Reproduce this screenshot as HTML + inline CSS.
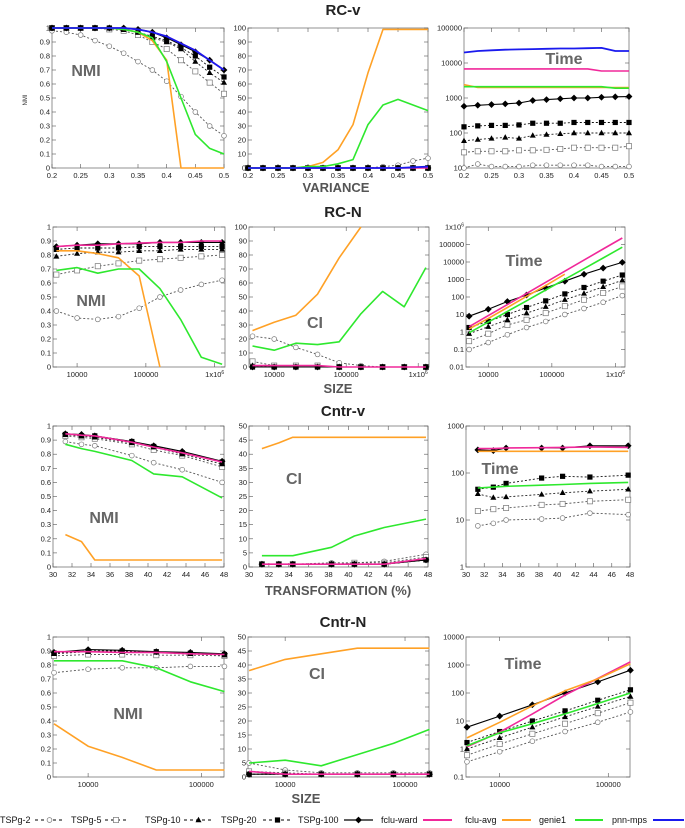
<!DOCTYPE html>
<html><head><meta charset="utf-8"><style>
html,body{margin:0;padding:0;background:#fff}
svg{display:block;font-family:"Liberation Sans",sans-serif}
.tk{font-size:7.5px;fill:#222}
.ttl{font-size:15px;font-weight:bold;fill:#222}
.axl{font-size:13px;font-weight:bold;fill:#555}
.pl{font-size:16px;font-weight:bold;fill:#666}
.lg{font-size:9px;fill:#111}
</style></head><body>
<svg id="fig" width="685" height="828" viewBox="0 0 685 828" xmlns="http://www.w3.org/2000/svg">
<text class="ttl" x="343" y="15" text-anchor="middle">RC-v</text>
<text class="ttl" x="343" y="217" text-anchor="middle">RC-N</text>
<text class="ttl" x="343" y="416" text-anchor="middle">Cntr-v</text>
<text class="ttl" x="343" y="627" text-anchor="middle">Cntr-N</text>
<text class="axl" x="336" y="192" text-anchor="middle">VARIANCE</text>
<text class="axl" x="338" y="393" text-anchor="middle">SIZE</text>
<text class="axl" x="338" y="595" text-anchor="middle">TRANSFORMATION (%)</text>
<text class="axl" x="306" y="803" text-anchor="middle">SIZE</text>
<text x="27" y="100" font-size="6" fill="#333" transform="rotate(-90 27 100)" text-anchor="middle">NMI</text>
<g id="legend"></g>
</svg>
<script>
// ---------- data ----------
const xVar = [0.2,0.225,0.25,0.275,0.3,0.325,0.35,0.375,0.4,0.425,0.45,0.475,0.5];
const xSizeRC = [5000,10000,20000,40000,80000,160000,320000,640000,1280000];
const xSizeRC6 = [5000,10000,20000,40000,80000,160000];
const xTrans = [31.3,33,34.4,38.3,40.6,43.6,47.8];
const xSizeC = [5000,10000,20000,40000,80000,160000];

// RC-v NMI
const a1_t2 = [0.98,0.97,0.95,0.91,0.87,0.82,0.76,0.70,0.62,0.51,0.40,0.30,0.23];
const a1_t5 = [1,1,1,1,0.99,0.98,0.95,0.90,0.85,0.77,0.69,0.61,0.53];
const a1_t10 = [1,1,1,1,1,0.99,0.97,0.93,0.90,0.85,0.76,0.68,0.61];
const a1_t20 = [1,1,1,1,1,0.99,0.97,0.94,0.91,0.86,0.80,0.72,0.65];
const a1_t100 = [1,1,1,1,1,1,0.99,0.97,0.93,0.88,0.83,0.77,0.70];
const a1_ward = [1,1,1,1,1,1,0.99,0.97,0.94,0.89,0.84,0.77,0.70];
const a1_avg = [1,1,1,1,1,0.99,0.97,0.91,0.77,0,0,0,0];
const a1_gen = [1,1,1,1,1,0.99,0.97,0.93,0.76,0.50,0.24,0.14,0.10];
const a1_pnn = [1,1,1,1,1,1,0.99,0.97,0.94,0.89,0.84,0.77,0.70];
// RC-v CI
const a2_t2 = [0,0,0,0,0,0,0,0,0,1,2,5,7];
const a2_t5 = [0,0,0,0,0,0,0,0,0,0,0,0,0];
const a2_t10 = [0,0,0,0,0,0,0,0,0,0,0,0,0];
const a2_t20 = [0,0,0,0,0,0,0,0,0,0,0,0,0];
const a2_t100 = [0,0,0,0,0,0,0,0,0,0,0,0,0];
const a2_ward = [0,0,0,0,0,0,0,0,0,0,0,0,0];
const a2_avg = [0,0,0,0,1,4,13,31,68,99,99,99,99];
const a2_gen = [0,0,0,0,1,1,3,6,31,45,49,45,41];
const a2_pnn = [0,0,0,0,0,0,0,0,0,0,0,0.5,1];
// RC-v Time
const a3_t2 = [10,13,11,11,11,12,12,12,12,12,11,11,11];
const a3_t5 = [28,30,30,30,32,32,33,35,38,38,38,38,42];
const a3_t10 = [60,65,70,75,70,85,90,95,100,100,100,100,100];
const a3_t20 = [150,160,165,165,170,190,190,190,200,200,200,200,200];
const a3_t100 = [580,620,650,680,720,850,900,950,1000,1000,1050,1080,1100];
const a3_ward = [6800,6800,6800,6800,6800,6800,6800,6800,6800,6800,5900,5900,5900];
const a3_avg = [2400,2000,2000,2000,2000,2000,2000,2000,2000,2000,2000,2000,2000];
const a3_gen = [2100,2100,2100,2100,2100,2100,2100,2100,2100,2100,2100,1900,1900];
const a3_pnn = [20000,22000,23000,24000,24500,25000,25500,26000,26000,26500,27000,22000,22000];

// RC-N NMI
const b1_t2 = [0.40,0.35,0.34,0.36,0.42,0.50,0.55,0.59,0.62];
const b1_t5 = [0.66,0.69,0.72,0.74,0.76,0.77,0.78,0.79,0.80];
const b1_t10 = [0.79,0.81,0.82,0.82,0.83,0.83,0.84,0.84,0.84];
const b1_t20 = [0.84,0.85,0.85,0.85,0.86,0.86,0.86,0.86,0.86];
const b1_t100 = [0.86,0.87,0.88,0.88,0.88,0.89,0.89,0.89,0.89];
const b1_ward = [0.86,0.87,0.87,0.88,0.885,0.89,0.89,0.90,0.90];
const b1_avg = [0.83,0.83,0.81,0.78,0.65,0];
const b1_gen = [0.69,0.71,0.67,0.70,0.70,0.56,0.34,0.07,0.02];
// RC-N CI
const b2_t2 = [22,20,14,9,3,1,0,0,0];
const b2_t5 = [4,1,1,1,0,0,0,0,0];
const b2_t10 = [1,0,0,0,0,0,0,0,0];
const b2_t20 = [0,0,0,0,0,0,0,0,0];
const b2_t100 = [0,0,0,0,0,0,0,0,0];
const b2_ward = [1,1,1,1,0,0,0,0,0];
const b2_avg = [26,32,37,52,78,100];
const b2_gen = [15,12,17,16,18,38,54,43,71];
// RC-N Time
const b3_t2 = [0.1,0.25,0.7,1.8,4,10,22,50,120];
const b3_t5 = [0.3,0.8,2.5,5,12,30,70,170,400];
const b3_t10 = [0.8,2,5,12,28,70,160,380,900];
const b3_t20 = [1.8,4,10,25,60,150,350,800,1800];
const b3_t100 = [8,20,55,130,330,800,2000,4500,9500];
const b3_ward = [2,8.6,37,160,690,3000,12800,55000,235000];
const b3_avg = [1.5,6,25,110,450,2000];
const b3_gen = [0.9,3.7,15,61,250,1020,4150,17000,70000];

// Cntr-v NMI
const c1_t2 = [0.89,0.87,0.86,0.79,0.74,0.69,0.60];
const c1_t5 = [0.93,0.92,0.91,0.87,0.83,0.79,0.71];
const c1_t10 = [0.94,0.93,0.92,0.88,0.85,0.80,0.73];
const c1_t20 = [0.94,0.93,0.93,0.89,0.855,0.81,0.745];
const c1_t100 = [0.945,0.94,0.93,0.89,0.86,0.82,0.75];
const c1_ward = [0.945,0.935,0.93,0.885,0.85,0.81,0.745];
const c1_avg = [0.23,0.18,0.05,0.05,0.05,0.05,0.05];
const c1_gen = [0.87,0.84,0.82,0.755,0.66,0.64,0.49];
// Cntr-v CI
const c2_t2 = [1,1,1,1.5,1.5,2,4.5];
const c2_t5 = [1,1,1,1,1.5,1.5,3.5];
const c2_t10 = [1,1,1,1,1,1,2.5];
const c2_t20 = [1,1,1,1,1,1,2.5];
const c2_t100 = [1,1,1,1,1,1,2.5];
const c2_ward = [1,1,1,1,1,1,3];
const c2_avg = [42,44,46,46,46,46,46];
const c2_gen = [4,4,4,7,11,14,17];
// Cntr-v Time
const c3_t2 = [7.5,8.5,10,10.5,11,14,13];
const c3_t5 = [15.5,17,18,21,22,25,27];
const c3_t10 = [36,30,31,35,38,41,45];
const c3_t20 = [45,50,60,78,85,82,90];
const c3_t100 = [310,300,340,340,340,380,380];
const c3_ward = [330,330,340,345,350,360,350];
const c3_avg = [290,290,290,290,290,290,290];
const c3_gen = [48,50,52,55,57,60,63];

// Cntr-N NMI
const d1_t2 = [0.745,0.77,0.78,0.78,0.79,0.79];
const d1_t5 = [0.865,0.875,0.875,0.87,0.87,0.865];
const d1_t10 = [0.88,0.895,0.895,0.89,0.88,0.87];
const d1_t20 = [0.885,0.90,0.90,0.895,0.885,0.875];
const d1_t100 = [0.89,0.91,0.905,0.895,0.89,0.88];
const d1_ward = [0.895,0.895,0.89,0.89,0.88,0.875];
const d1_avg = [0.38,0.22,0.14,0.05,0.05,0.05];
const d1_gen = [0.83,0.83,0.83,0.78,0.68,0.61];
// Cntr-N CI
const d2_t2 = [5,2.5,1.5,1.5,1.5,1.5];
const d2_t5 = [2,1.5,1,1,1,1];
const d2_t10 = [1,1,1,1,1,1];
const d2_t20 = [1,1,1,1,1,1];
const d2_t100 = [1,1,1,1,1,1];
const d2_ward = [2,1,1,1,1,1];
const d2_avg = [38,42,44,46,46,46];
const d2_gen = [5,6,4,8,12,17];
// Cntr-N Time
const d3_t2 = [0.35,0.8,1.9,4.2,9,21];
const d3_t5 = [0.6,1.5,3.5,8,19,45];
const d3_t10 = [1,2.5,6,14,33,75];
const d3_t20 = [1.7,4.2,10,23,55,130];
const d3_t100 = [6,15,38,100,250,650];
const d3_ward = [1.2,4,18,85,330,1300];
const d3_avg = [2.5,9,35,120,320,1100];
const d3_gen = [1.3,3.8,8,18,42,100];

// tick label arrays
const tkNMI = [0,0.1,0.2,0.3,0.4,0.5,0.6,0.7,0.8,0.9,1];
const tkCI100 = [0,10,20,30,40,50,60,70,80,90,100];
const tkCI50 = [0,5,10,15,20,25,30,35,40,45,50];
const tkVar = [0.2,0.25,0.3,0.35,0.4,0.45,0.5];
const tkTrans = [30,32,34,36,38,40,42,44,46,48];
const tkSizeRC = [10000,100000,1000000];
const tkSizeC = [10000,100000];
const tkTimeA = [10,100,1000,10000,100000];
const tkTimeB = [0.01,0.1,1,10,100,1000,10000,100000,1000000];
const tkTimeC = [1,10,100,1000];
const tkTimeD = [0.1,1,10,100,1000,10000];

// ---------- drawing ----------
const NS = 'http://www.w3.org/2000/svg';
const svg = document.getElementById('fig');
function mk(tag, attrs, parent){
  const e = document.createElementNS(NS, tag);
  for (const k in attrs) e.setAttribute(k, attrs[k]);
  (parent || svg).appendChild(e);
  return e;
}
function fmt(v){
  if (v >= 1000000) return null;
  return String(v);
}
function panel(name, x0, x1, y0, y1, xd, xlog, yd, ylog, xt, yt){
  const g = mk('g', {});
  
  
  const fx = v => xlog ? Math.log10(v) : v;
  const fy = v => ylog ? Math.log10(v) : v;
  const sx = v => x0 + (fx(v) - xd[0]) / (xd[1] - xd[0]) * (x1 - x0);
  const sy = v => y1 - (fy(v) - yd[0]) / (yd[1] - yd[0]) * (y1 - y0);
  const fr = mk('rect', {x:x0, y:y0, width:x1-x0, height:y1-y0, fill:'none', stroke:'#777', 'stroke-width':0.8}, g);
  
  
  xt.forEach(v => {
    const X = sx(v);
    mk('line', {x1:X, x2:X, y1:y1, y2:y1-4, stroke:'#555', 'stroke-width':0.6}, g);
    mk('line', {x1:X, x2:X, y1:y0, y2:y0+4, stroke:'#555', 'stroke-width':0.6}, g);
    const t = mk('text', {x:X, y:y1+10, 'text-anchor':'middle', class:'tk'}, g);
    
    
    if (v >= 1000000) { t.textContent = '1x10'; const s = mk('tspan', {dy:-3, 'font-size':5}, t); s.textContent = '6'; }
    else t.textContent = String(v);
  });
  yt.forEach(v => {
    const Y = sy(v);
    mk('line', {x1:x0, x2:x0+4, y1:Y, y2:Y, stroke:'#555', 'stroke-width':0.6}, g);
    mk('line', {x1:x1, x2:x1-4, y1:Y, y2:Y, stroke:'#555', 'stroke-width':0.6}, g);
    const t = mk('text', {x:x0-2, y:Y+2.5, 'text-anchor':'end', class:'tk'}, g);
    
    
    if (v >= 1000000) { t.textContent = '1x10'; const s = mk('tspan', {dy:-3, 'font-size':5}, t); s.textContent = '6'; }
    else t.textContent = String(v);
  });
  return {g, sx, sy};
}
const ST = {
  t2:{c:'#555', d:'2,2', m:'circ', w:0.9},
  t5:{c:'#555', d:'2,2', m:'sqo', w:0.9},
  t10:{c:'#222', d:'2,2', m:'tri', w:0.9},
  t20:{c:'#111', d:'2,2', m:'sq', w:0.9},
  t100:{c:'#000', d:'', m:'dia', w:1.1},
  ward:{c:'#f0289a', d:'', m:'', w:1.6},
  avg:{c:'#ffa126', d:'', m:'', w:1.6},
  gen:{c:'#2ee82e', d:'', m:'', w:1.6},
  pnn:{c:'#1a1aee', d:'', m:'', w:1.8}
};
function marker(g, m, X, Y, c){
  const r = 2.6;
  if (m === 'circ') return mk('circle', {cx:X, cy:Y, r:2.4, fill:'#fff', stroke:'#777', 'stroke-width':0.7}, g);
  if (m === 'sqo') return mk('rect', {x:X-r, y:Y-r, width:2*r, height:2*r, fill:'#fff', stroke:'#777', 'stroke-width':0.7}, g);
  if (m === 'sq') return mk('rect', {x:X-r, y:Y-r, width:2*r, height:2*r, fill:'#000'}, g);
  if (m === 'tri') return mk('polygon', {points:`${X},${Y-3.2} ${X-3},${Y+2.2} ${X+3},${Y+2.2}`, fill:'#000'}, g);
  if (m === 'dia') return mk('polygon', {points:`${X},${Y-3.4} ${X-3.4},${Y} ${X},${Y+3.4} ${X+3.4},${Y}`, fill:'#000'}, g);
}
function series(p, xs, ys, key, name){
  const s = ST[key];
  const n = Math.min(xs.length, ys.length);
  let d = '';
  for (let i = 0; i < n; i++) d += (i ? 'L' : 'M') + p.sx(xs[i]).toFixed(1) + ',' + p.sy(ys[i]).toFixed(1);
  const path = mk('path', {d, fill:'none', stroke:s.c, 'stroke-width':s.w, 'stroke-dasharray':s.d, 'stroke-linejoin':'round'}, p.g);
  
  
  if (s.m) for (let i = 0; i < n; i++) {
    const mm = marker(p.g, s.m, p.sx(xs[i]), p.sy(ys[i]), s.c);
    
    
  }
}
function label(txt, x, y, name){
  const t = mk('text', {x, y, class:'pl', 'text-anchor':'middle'});
  t.textContent = txt;
  
  
}
function drawAll(p, xs, arr, xsShort){
  const order = ['t2','t5','t10','t20','t100','ward','avg','gen','pnn'];
  order.forEach(k => {
    if (!arr[k]) return;
    const xx = (arr[k].length < xs.length && xsShort) ? xsShort : xs;
    series(p, xx, arr[k], k, 'series-' + k);
  });
}
// Row 1
let p;
p = panel('panel-rcv-nmi', 52, 224, 28, 168, [0.2,0.5], false, [0,1], false, tkVar, tkNMI);
drawAll(p, xVar, {t2:a1_t2,t5:a1_t5,t10:a1_t10,t20:a1_t20,t100:a1_t100,ward:a1_ward,avg:a1_avg,gen:a1_gen,pnn:a1_pnn});
label('NMI', 86, 76, 'label-nmi');
p = panel('panel-rcv-ci', 248, 428, 28, 168, [0.2,0.5], false, [0,100], false, tkVar, tkCI100);
drawAll(p, xVar, {t2:a2_t2,t5:a2_t5,t10:a2_t10,t20:a2_t20,t100:a2_t100,ward:a2_ward,avg:a2_avg,gen:a2_gen,pnn:a2_pnn});
p = panel('panel-rcv-time', 464, 629, 28, 168, [0.2,0.5], false, [1,5], true, tkVar, tkTimeA);
drawAll(p, xVar, {t2:a3_t2,t5:a3_t5,t10:a3_t10,t20:a3_t20,t100:a3_t100,ward:a3_ward,avg:a3_avg,gen:a3_gen,pnn:a3_pnn});
label('Time', 564, 64, 'label-time');
// Row 2
p = panel('panel-rcn-nmi', 53, 225, 227, 367, [3.65,6.15], true, [0,1], false, tkSizeRC, tkNMI);
drawAll(p, xSizeRC, {t2:b1_t2,t5:b1_t5,t10:b1_t10,t20:b1_t20,t100:b1_t100,ward:b1_ward,avg:b1_avg,gen:b1_gen}, xSizeRC6);
label('NMI', 91, 306, 'label-nmi');
p = panel('panel-rcn-ci', 249, 429, 227, 367, [3.65,6.15], true, [0,100], false, tkSizeRC, tkCI100);
drawAll(p, xSizeRC, {t2:b2_t2,t5:b2_t5,t10:b2_t10,t20:b2_t20,t100:b2_t100,ward:b2_ward,avg:b2_avg,gen:b2_gen}, xSizeRC6);
label('CI', 315, 328, 'label-ci');
p = panel('panel-rcn-time', 466, 625, 227, 367, [3.65,6.15], true, [-2,6], true, tkSizeRC, tkTimeB);
drawAll(p, xSizeRC, {t2:b3_t2,t5:b3_t5,t10:b3_t10,t20:b3_t20,t100:b3_t100,ward:b3_ward,avg:b3_avg,gen:b3_gen}, xSizeRC6);
label('Time', 524, 266, 'label-time');
// Row 3
p = panel('panel-cntrv-nmi', 53, 224, 426, 567, [30,48], false, [0,1], false, tkTrans, tkNMI);
drawAll(p, xTrans, {t2:c1_t2,t5:c1_t5,t10:c1_t10,t20:c1_t20,t100:c1_t100,ward:c1_ward,avg:c1_avg,gen:c1_gen});
label('NMI', 104, 523, 'label-nmi');
p = panel('panel-cntrv-ci', 249, 428, 426, 567, [30,48], false, [0,50], false, tkTrans, tkCI50);
drawAll(p, xTrans, {t2:c2_t2,t5:c2_t5,t10:c2_t10,t20:c2_t20,t100:c2_t100,ward:c2_ward,avg:c2_avg,gen:c2_gen});
label('CI', 294, 484, 'label-ci');
p = panel('panel-cntrv-time', 466, 630, 426, 567, [30,48], false, [0,3], true, tkTrans, tkTimeC);
drawAll(p, xTrans, {t2:c3_t2,t5:c3_t5,t10:c3_t10,t20:c3_t20,t100:c3_t100,ward:c3_ward,avg:c3_avg,gen:c3_gen});
label('Time', 500, 474, 'label-time');
// Row 4
p = panel('panel-cntrn-nmi', 53, 224, 637, 777, [3.69,5.2], true, [0,1], false, tkSizeC, tkNMI);
drawAll(p, xSizeC, {t2:d1_t2,t5:d1_t5,t10:d1_t10,t20:d1_t20,t100:d1_t100,ward:d1_ward,avg:d1_avg,gen:d1_gen});
label('NMI', 128, 719, 'label-nmi');
p = panel('panel-cntrn-ci', 248, 429, 637, 777, [3.69,5.2], true, [0,50], false, tkSizeC, tkCI50);
drawAll(p, xSizeC, {t2:d2_t2,t5:d2_t5,t10:d2_t10,t20:d2_t20,t100:d2_t100,ward:d2_ward,avg:d2_avg,gen:d2_gen});
label('CI', 317, 679, 'label-ci');
p = panel('panel-cntrn-time', 466, 630, 637, 777, [3.69,5.2], true, [-1,4], true, tkSizeC, tkTimeD);
drawAll(p, xSizeC, {t2:d3_t2,t5:d3_t5,t10:d3_t10,t20:d3_t20,t100:d3_t100,ward:d3_ward,avg:d3_avg,gen:d3_gen});
label('Time', 523, 669, 'label-time');

// Legend
const lg = document.getElementById('legend');
const legItems = [
  ['TSPg-2', 0, 35, 64, 't2'], ['TSPg-5', 71, 105, 127, 't5'], ['TSPg-10', 145, 184, 213, 't10'],
  ['TSPg-20', 221, 263, 292, 't20'], ['TSPg-100', 298, 344, 373, 't100'], ['fclu-ward', 381, 423, 452, 'ward'],
  ['fclu-avg', 465, 502, 531, 'avg'], ['genie1', 539, 575, 603, 'gen'], ['pnn-mps', 612, 653, 684, 'pnn']
];
const legMarkers = ['circ','sqo','tri','sq','dia'];
legItems.forEach((it, i) => {
  const g = mk('g', {}, lg);
  
  
  const t = mk('text', {x:it[1], y:823, class:'lg'}, g);
  t.textContent = it[0];
  const s = ST[it[4]];
  const Y = 820;
  if (i < 5) {
    mk('line', {x1:it[2], x2:it[3], y1:Y, y2:Y, stroke:'#000', 'stroke-width': i === 4 ? 1.2 : 1, 'stroke-dasharray': i === 4 ? '' : '3,3'}, g);
    marker(g, legMarkers[i], (it[2]+it[3])/2, Y, '#000');
  } else {
    mk('line', {x1:it[2], x2:it[3], y1:Y, y2:Y, stroke:s.c, 'stroke-width':2}, g);
  }
});
</script>
</body></html>
